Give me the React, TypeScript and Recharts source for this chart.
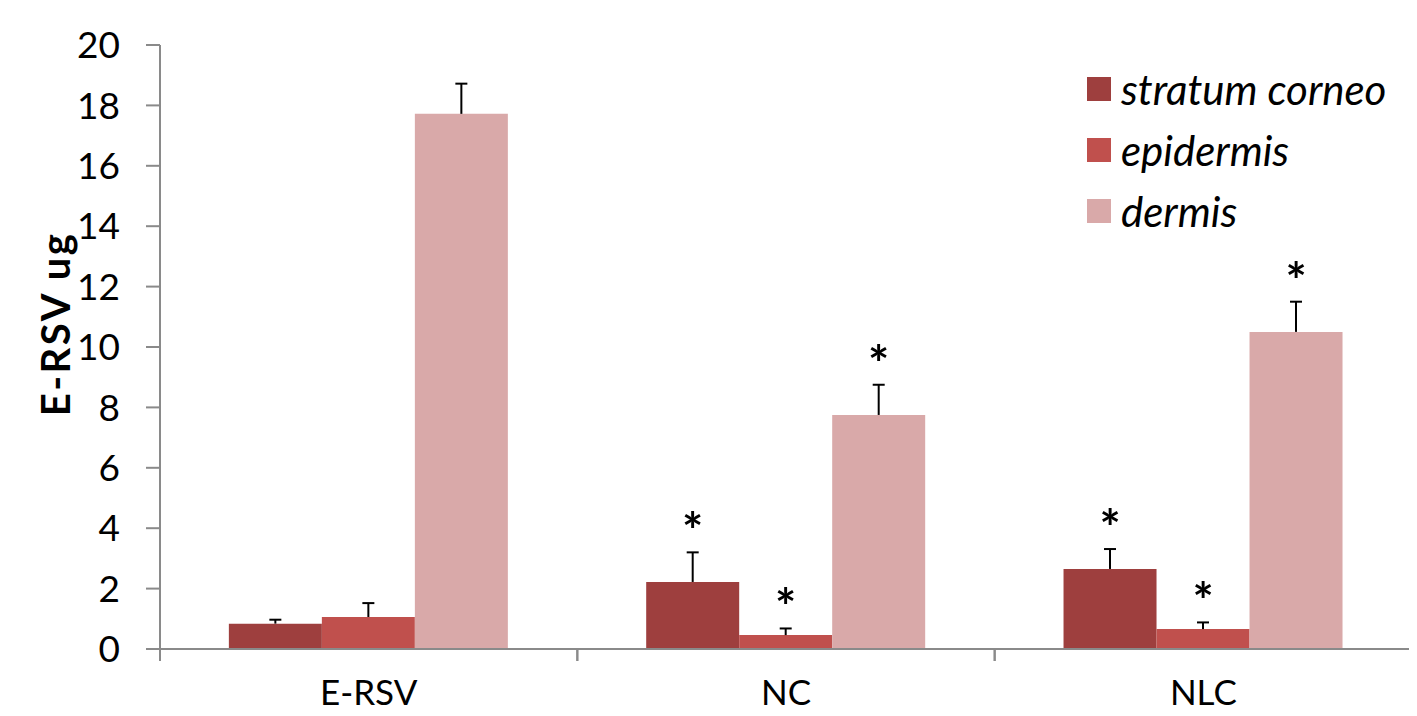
import { BarChart, Bar, XAxis, YAxis, LabelList } from 'recharts';

const categories = ['E-RSV', 'NC', 'NLC'];
const seriesNames = ['stratum corneo', 'epidermis', 'dermis'];

const stratumValues = [0.84, 2.22, 2.65];
const stratumErrors = [0.13, 0.98, 0.66];
const stratumSig = [false, true, true];

const epidermisValues = [1.06, 0.46, 0.66];
const epidermisErrors = [0.46, 0.22, 0.22];
const epidermisSig = [false, true, true];

const dermisValues = [17.72, 7.75, 10.5];
const dermisErrors = [1.0, 1.0, 1.0];
const dermisSig = [false, true, true];

const yTicks = [0, 2, 4, 6, 8, 10, 12, 14, 16, 18, 20];

const COLORS = ['#9e3f3e', '#c0504d', '#d9a9a9'];
const AXIS_GREY = '#8a8a8a';
const FONT = 'Lato, "Open Sans", sans-serif';

const data = categories.map((name, i) => ({
  name,
  stratum: stratumValues[i],
  epidermis: epidermisValues[i],
  dermis: dermisValues[i],
}));

// error bar (up only) + significance star, scaled from the bar's own height/value
const makeErrorLabel = (errors: number[], sig: boolean[]) => (props: any) => {
  const vb = props.viewBox ?? props;
  const x = Number(vb.x ?? props.x);
  const y = Number(vb.y ?? props.y);
  const w = Number(vb.width ?? props.width);
  const h = Number(vb.height ?? props.height);
  const idx = props.index;
  const value = Number(props.value);
  if (!value || idx == null) return null;
  const pxPerUnit = h / value;
  const cx = x + w / 2;
  const top = y - errors[idx] * pxPerUnit;
  return (
    <g>
      <line x1={cx} y1={y} x2={cx} y2={top} stroke="#000" strokeWidth={2} />
      <line x1={cx - 6} y1={top} x2={cx + 6} y2={top} stroke="#000" strokeWidth={2} />
      {sig[idx] && (
        <text x={cx} y={top - 3} textAnchor="middle" fontSize={50} fontWeight="bold" fontFamily={FONT} fill="#000">
          *
        </text>
      )}
    </g>
  );
};

const CategoryTick = (props: any) => {
  const { x, y, payload } = props;
  const half = payload?.offset ?? 0;
  return (
    <g>
      <line x1={x - half} y1={y - 8} x2={x - half} y2={y + 4} stroke={AXIS_GREY} strokeWidth={2} />
      <line x1={x + half} y1={y - 8} x2={x + half} y2={y + 4} stroke={AXIS_GREY} strokeWidth={2} />
      <text x={x} y={y + 48} textAnchor="middle" fontSize={35} fontFamily={FONT} fill="#000">
        {payload.value}
      </text>
    </g>
  );
};

const LegendBox = () => (
  <div
    style={{
      position: 'absolute',
      top: 50,
      left: 1079,
      fontFamily: FONT,
      fontStyle: 'italic',
      fontSize: 42,
      whiteSpace: 'nowrap',
    }}
  >
    {seriesNames.map((n, i) => (
      <div key={n} style={{ display: 'flex', alignItems: 'center', height: 61 }}>
        <span style={{ width: 24, height: 24, background: COLORS[i], display: 'inline-block', marginRight: 10 }} />
        <span>{n}</span>
      </div>
    ))}
  </div>
);

export default function App() {
  return (
    <div style={{ position: 'relative', width: 1409, height: 708 }}>
      <BarChart
        width={1409}
        height={708}
        data={data}
        margin={{ top: 37, right: 5, bottom: 0, left: 0 }}
        barCategoryGap="16.5%"
        barGap={0}
      >
        <XAxis
          dataKey="name"
          axisLine={{ stroke: AXIS_GREY, strokeWidth: 2 }}
          tickLine={false}
          tick={<CategoryTick />}
          interval={0}
          height={67}
        />
        <YAxis
          width={152}
          domain={[0, 20]}
          ticks={yTicks}
          interval={0}
          axisLine={{ stroke: AXIS_GREY, strokeWidth: 2 }}
          tickLine={{ stroke: AXIS_GREY, strokeWidth: 2 }}
          tickSize={14}
          tickMargin={26}
          tick={{ fontSize: 37, fontFamily: FONT, fill: '#000' }}
          label={{
            content: ({ viewBox }: any) => (
              <text
                transform={`translate(${viewBox.x + 62}, ${viewBox.y + viewBox.height / 2 - 23}) rotate(-90)`}
                textAnchor="middle"
                fontSize={40}
                fontWeight="bold"
                letterSpacing={2.5}
                fontFamily={FONT}
                fill="#000"
              >
                E-RSV ug
              </text>
            ),
          }}
        />
        <Bar dataKey="stratum" name={seriesNames[0]} fill={COLORS[0]} isAnimationActive={false}>
          <LabelList dataKey="stratum" content={makeErrorLabel(stratumErrors, stratumSig)} />
        </Bar>
        <Bar dataKey="epidermis" name={seriesNames[1]} fill={COLORS[1]} isAnimationActive={false}>
          <LabelList dataKey="epidermis" content={makeErrorLabel(epidermisErrors, epidermisSig)} />
        </Bar>
        <Bar dataKey="dermis" name={seriesNames[2]} fill={COLORS[2]} isAnimationActive={false}>
          <LabelList dataKey="dermis" content={makeErrorLabel(dermisErrors, dermisSig)} />
        </Bar>
      </BarChart>
      <LegendBox />
    </div>
  );
}
